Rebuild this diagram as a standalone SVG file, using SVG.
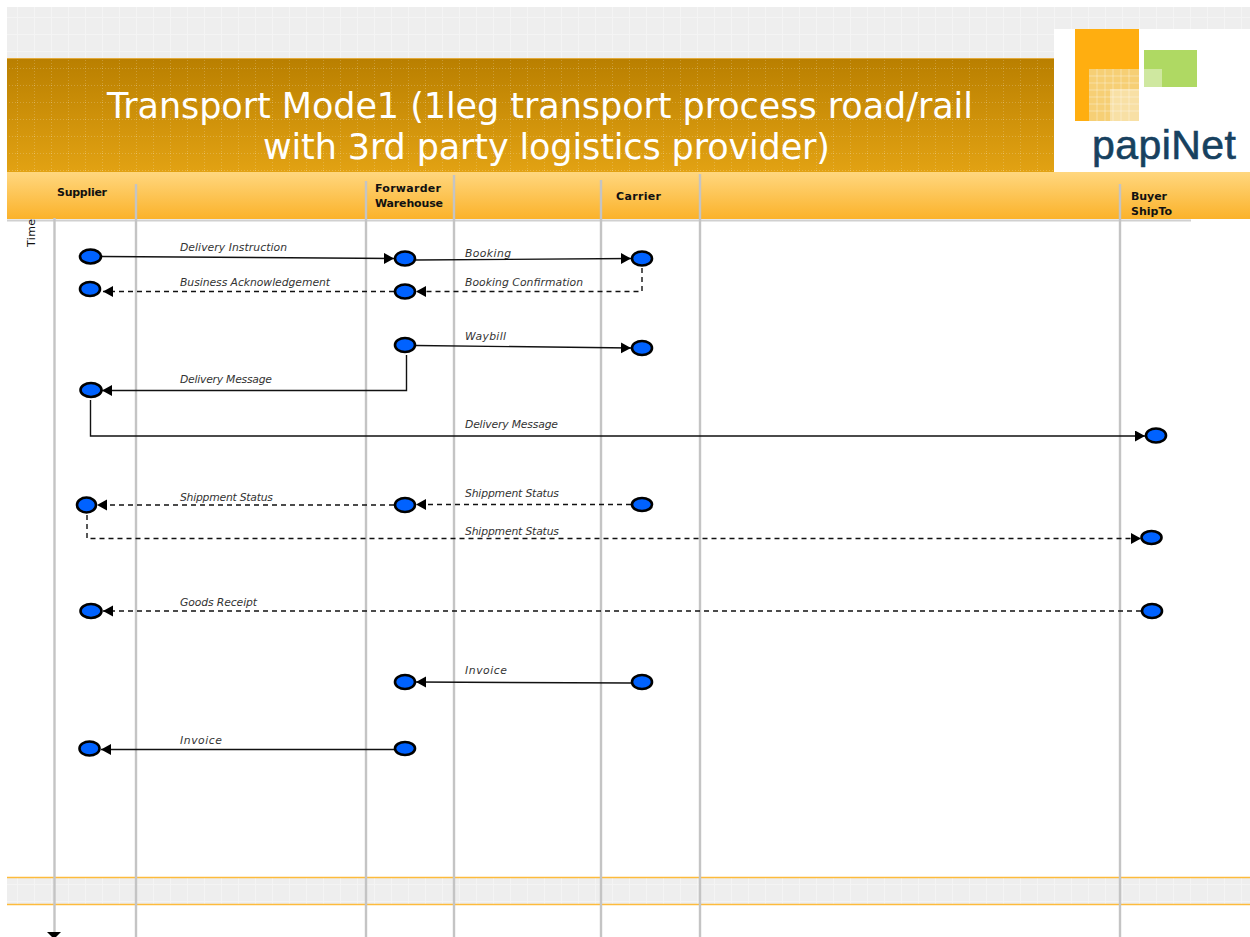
<svg xmlns="http://www.w3.org/2000/svg" width="1250" height="937" viewBox="0 0 1250 937">
<defs>
<pattern id="grid" width="17" height="17" patternUnits="userSpaceOnUse"><rect width="17" height="17" fill="#eeeeee"/><path d="M0 .5H17M.5 0V17" stroke="#f4f4f4" stroke-width="1"/></pattern>
<pattern id="dots" width="17" height="17" patternUnits="userSpaceOnUse"><path d="M0 .5H17M.5 0V17" stroke="#ffffff" stroke-opacity=".2" stroke-width="1" stroke-dasharray="1 2"/></pattern>
<linearGradient id="title" x1="0" y1="0" x2="0" y2="1"><stop offset="0" stop-color="#b97f00"/><stop offset="1" stop-color="#e2a213"/></linearGradient>
<linearGradient id="head" x1="0" y1="0" x2="0" y2="1"><stop offset="0" stop-color="#ffd77f"/><stop offset="1" stop-color="#fbb22a"/></linearGradient>
<marker id="arr" markerUnits="userSpaceOnUse" markerWidth="12" markerHeight="12" refX="10" refY="5.5" orient="auto"><path d="M0 0L10 5.500L0 11Z" fill="#000"/></marker>
</defs>
<style>
.lane{stroke:#c4c4c4;stroke-width:2.400;fill:none}
.c{stroke:#111;stroke-width:1.400;fill:none}
.d{stroke-dasharray:5 4}
.a{marker-end:url(#arr)}
.n{fill:#0062ff;stroke:#000;stroke-width:2.600}
.l{font:italic 10.800px "DejaVu Sans",Verdana,sans-serif;fill:#333}
.h{font:bold 11px "DejaVu Sans",Verdana,sans-serif;fill:#111}
.t{font:35px "DejaVu Sans",Verdana,sans-serif;fill:#fff}
</style>
<g id="background">
<rect x="7" y="7" width="1243" height="51" fill="url(#grid)"/>
<rect x="7" y="58" width="1047" height="114" fill="url(#title)"/>
<rect x="7" y="58" width="1047" height="114" fill="url(#dots)"/>
<path d="M7 58.500H1054" stroke="#e3a93a"/>
<rect x="1054" y="29" width="196" height="143" fill="#fff"/>
<rect x="7" y="172" width="1243" height="47" fill="url(#head)"/>
<path d="M7 220.500H1191" stroke="#d0d0d0" stroke-width="2"/>
<rect x="7" y="877" width="1243" height="28" fill="url(#grid)"/>
<path d="M7 877.500H1250M7 904.500H1250" stroke="#fdbb3c" stroke-width="1.300"/>
</g>
<g id="logo">
<rect x="1075" y="29" width="64" height="92" fill="#ffae10"/>
<rect x="1089" y="69" width="50" height="52" fill="#f6cf75"/>
<rect x="1110" y="89" width="29" height="32" fill="#f8e0a5"/>
<path d="M1089 76H1139M1089 83H1139M1089 90H1139M1089 97H1139M1089 104H1139M1089 111H1139M1097 69V121M1105 69V121M1113 69V121M1121 69V121M1129 69V121" stroke="#fff" stroke-opacity=".35" fill="none"/>
<rect x="1144" y="50" width="53" height="37" fill="#afd963"/>
<rect x="1144" y="69" width="18" height="18" fill="#cfe8a0"/>
<text x="1092" y="159" font-family="'Liberation Sans',Arial,sans-serif" font-size="41" fill="#17415f" stroke="#17415f" stroke-width=".6" textLength="144">papiNet</text>
</g>
<g id="title-text">
<text class="t" x="107" y="118" textLength="866">Transport Mode1 (1leg transport process road/rail</text>
<text class="t" x="263" y="159" textLength="567">with 3rd party logistics provider)</text>
</g>
<g id="lanes">
<path class="lane" d="M54.500 218V932"/>
<path d="M47 932H61L54 939Z" fill="#000"/>
<path class="lane" d="M136 184V937M366 181V937M454 175V937M601 180V937M700 174V937M1120 184V937"/>
</g>
<g id="headers">
<text class="h" x="57" y="196" textLength="50">Supplier</text>
<text class="h" x="375" y="192" textLength="66">Forwarder</text>
<text class="h" x="375" y="207" textLength="68">Warehouse</text>
<text class="h" x="616" y="200" textLength="45">Carrier</text>
<text class="h" x="1131" y="200" textLength="36">Buyer</text>
<text class="h" x="1131" y="215" textLength="41">ShipTo</text>
<text x="35" y="247" transform="rotate(-90 35 247)" font-family="'DejaVu Sans',Verdana,sans-serif" font-size="11" fill="#111" textLength="28">Time</text>
</g>
<g id="connectors">
<path class="c a" d="M102 256.500L394 258.500"/>
<path class="c a" d="M416 260L631 258.500"/>
<path class="c d a" d="M394 291.500H103"/>
<path class="c d a" d="M642 268V291.500H416"/>
<path class="c a" d="M416 345.500L631 348"/>
<path class="c a" d="M406.500 355V390.500H102"/>
<path class="c a" d="M90.500 400V436H1145"/>
<path class="c d a" d="M631 504.500H416"/>
<path class="c d a" d="M394 505H97"/>
<path class="c d a" d="M87 515V538.500H1141"/>
<path class="c d a" d="M1141 611H103"/>
<path class="c a" d="M631 683L416 682"/>
<path class="c a" d="M394 749.500H101"/>
</g>
<g id="labels">
<text class="l" x="180" y="251" textLength="107">Delivery Instruction</text>
<text class="l" x="180" y="286" textLength="150">Business Acknowledgement</text>
<text class="l" x="465" y="257" textLength="46">Booking</text>
<text class="l" x="465" y="286" textLength="118">Booking Confirmation</text>
<text class="l" x="465" y="340" textLength="41">Waybill</text>
<text class="l" x="180" y="383" textLength="92">Delivery Message</text>
<text class="l" x="465" y="428" textLength="93">Delivery Message</text>
<text class="l" x="180" y="501" textLength="93">Shippment Status</text>
<text class="l" x="465" y="497" textLength="94">Shippment Status</text>
<text class="l" x="465" y="535" textLength="94">Shippment Status</text>
<text class="l" x="180" y="606" textLength="77">Goods Receipt</text>
<text class="l" x="465" y="674" textLength="42">Invoice</text>
<text class="l" x="180" y="744" textLength="42">Invoice</text>
</g>
<g id="n1"><ellipse class="n" cx="90.500" cy="256.500" rx="10.500" ry="7"/></g>
<g id="n2"><ellipse class="n" cx="90" cy="289" rx="10" ry="7"/></g>
<g id="n3"><ellipse class="n" cx="405" cy="258.500" rx="10" ry="7"/></g>
<g id="n4"><ellipse class="n" cx="405" cy="291.500" rx="10" ry="7"/></g>
<g id="n5"><ellipse class="n" cx="642" cy="258.500" rx="10" ry="7"/></g>
<g id="n6"><ellipse class="n" cx="405" cy="345" rx="10" ry="7"/></g>
<g id="n7"><ellipse class="n" cx="642" cy="348" rx="10" ry="7"/></g>
<g id="n8"><ellipse class="n" cx="91" cy="390" rx="10.500" ry="7"/></g>
<g id="n9"><ellipse class="n" cx="1156" cy="435.500" rx="10" ry="7"/></g>
<g id="n10"><ellipse class="n" cx="86.500" cy="505" rx="9.500" ry="7.500"/></g>
<g id="n11"><ellipse class="n" cx="405" cy="505" rx="10" ry="7"/></g>
<g id="n12"><ellipse class="n" cx="642" cy="504.500" rx="10" ry="6.500"/></g>
<g id="n13"><ellipse class="n" cx="1151.500" cy="537.500" rx="10" ry="6.500"/></g>
<g id="n14"><ellipse class="n" cx="91" cy="611" rx="10.500" ry="7"/></g>
<g id="n15"><ellipse class="n" cx="1152" cy="611" rx="10" ry="7"/></g>
<g id="n16"><ellipse class="n" cx="405" cy="682" rx="10" ry="7"/></g>
<g id="n17"><ellipse class="n" cx="642" cy="682" rx="10" ry="7"/></g>
<g id="n18"><ellipse class="n" cx="89.500" cy="748.500" rx="10" ry="7"/></g>
<g id="n19"><ellipse class="n" cx="405" cy="748.500" rx="10" ry="6.500"/></g>
</svg>
